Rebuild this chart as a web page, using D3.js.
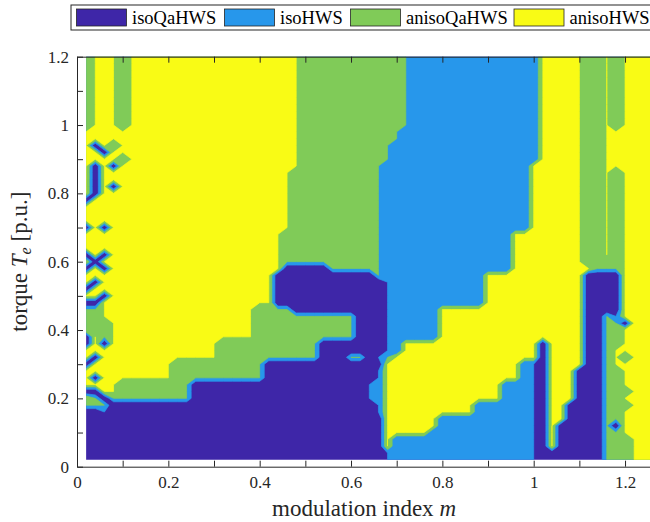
<!DOCTYPE html>
<html>
<head>
<meta charset="utf-8">
<script src="https://cdn.jsdelivr.net/npm/d3@7"></script>
<style>
  body { margin: 0; background: #fff; }
  text { font-family: "Liberation Serif", "Times New Roman", serif; }
</style>
</head>
<body>
<div id="chart"></div>
<script>
// legend classes, in colour order (value 1..4 in the grid)
const categories = ["isoQaHWS", "isoHWS", "anisoQaHWS", "anisoHWS"];
const colors = ["#3e26a8", "#2797eb", "#80cb58", "#f9fb15"];

// sample points of the map
const mValues = [0.02,0.04,0.06,0.08,0.10,0.12,0.14,0.16,0.18,0.20,0.22,0.24,0.26,0.28,0.30,0.32,0.34,0.36,0.38,0.40,
  0.42,0.44,0.46,0.48,0.50,0.52,0.54,0.56,0.58,0.60,0.62,0.64,0.66,0.68,0.70,0.72,0.74,0.76,0.78,0.80,
  0.82,0.84,0.86,0.88,0.90,0.92,0.94,0.96,0.98,1.00,1.02,1.04,1.06,1.08,1.10,1.12,1.14,1.16,1.18,1.20,
  1.22,1.24,1.26];
const tValues = [0.02,0.04,0.06,0.08,0.10,0.12,0.14,0.16,0.18,0.20,0.22,0.24,0.26,0.28,0.30,0.32,0.34,0.36,0.38,0.40,
  0.42,0.44,0.46,0.48,0.50,0.52,0.54,0.56,0.58,0.60,0.62,0.64,0.66,0.68,0.70,0.72,0.74,0.76,0.78,0.80,
  0.82,0.84,0.86,0.88,0.90,0.92,0.94,0.96,0.98,1.00,1.02,1.04,1.06,1.08,1.10,1.12,1.14,1.16,1.18,1.20];

// best class per (m, T), one row per torque value, top row = 1.20
// run-length coded: "class:count" along m
const rows = [
  "3:1 4:3 3:1 4:19 3:12 2:14 4:5 3:2 4:1 3:1 4:4", // 1.20
  "3:1 4:3 3:1 4:19 3:12 2:14 4:5 3:2 4:1 3:1 4:4",
  "3:1 4:3 3:1 4:19 3:12 2:14 4:5 3:2 4:1 3:1 4:4",
  "3:1 4:3 3:1 4:19 3:12 2:14 4:5 3:2 4:1 3:1 4:4",
  "3:1 4:3 3:1 4:19 3:12 2:14 4:5 3:2 4:1 3:1 4:4",
  "3:1 4:3 3:1 4:19 3:12 2:14 4:5 3:2 4:1 3:1 4:4", // 1.10
  "3:1 4:3 3:1 4:19 3:12 2:14 4:5 3:2 4:1 3:1 4:4",
  "3:1 4:3 3:1 4:19 3:12 2:14 4:5 3:2 4:1 3:1 4:4",
  "3:1 4:3 3:1 4:19 3:12 2:14 4:5 3:2 4:1 3:1 4:4",
  "3:1 4:3 3:1 4:19 3:12 2:14 4:5 3:2 4:1 3:1 4:4",
  "3:1 4:3 3:1 4:19 3:12 2:14 4:5 3:2 4:1 3:1 4:4", // 1.00
  "4:24 3:11 2:15 4:5 3:2 4:6",
  "4:24 3:11 2:15 4:5 3:2 4:6",
  "4:1 1:1 4:1 3:1 4:20 3:10 2:16 4:5 3:2 4:6",
  "4:2 1:1 4:21 3:10 2:16 4:5 3:2 4:6",
  "4:4 3:1 4:19 3:10 2:16 4:5 3:2 4:6",             // 0.90
  "4:1 1:1 4:1 1:1 4:20 3:9 2:16 4:6 3:2 4:6",
  "4:1 1:1 4:21 3:10 2:16 4:6 3:2 4:1 3:1 4:4",
  "4:1 1:1 4:21 3:10 2:16 4:6 3:2 4:1 3:1 4:4",
  "4:1 1:1 4:1 1:1 4:19 3:10 2:16 4:6 3:2 4:1 3:1 4:4",
  "4:1 1:1 4:21 3:10 2:16 4:6 3:2 4:1 3:1 4:4",    // 0.80
  "1:1 4:22 3:10 2:16 4:6 3:2 4:1 3:1 4:4",
  "4:23 3:10 2:16 4:6 3:2 4:1 3:1 4:4",
  "4:23 3:10 2:16 4:6 3:2 4:1 3:1 4:4",
  "4:23 3:10 2:16 4:6 3:2 4:1 3:1 4:4",
  "1:1 4:1 1:1 4:20 3:10 2:16 4:6 3:2 4:1 3:1 4:4", // 0.70
  "4:22 3:11 2:14 4:8 3:2 4:1 3:1 4:4",
  "4:22 3:11 2:14 4:8 3:2 4:1 3:1 4:4",
  "4:22 3:11 2:14 4:8 3:2 4:1 3:1 4:4",
  "1:1 4:1 1:1 4:19 3:11 2:14 4:8 3:2 4:1 3:1 4:4",
  "4:1 1:1 4:20 3:11 2:14 4:8 3:4 4:4",             // 0.60
  "1:1 4:1 1:1 4:19 1:5 3:6 2:14 4:9 3:3 4:4",
  "4:21 1:11 3:1 2:11 4:11 1:4 4:4",
  "4:1 1:1 4:19 1:12 2:11 4:11 1:4 4:4",
  "1:1 4:20 1:12 2:11 4:11 1:4 4:4",
  "4:2 1:1 4:18 1:12 2:11 4:11 1:4 4:4",            // 0.50
  "1:2 4:19 1:12 2:11 4:11 1:4 4:4",
  "3:2 4:17 3:4 1:10 2:6 4:16 1:4 4:4",
  "3:2 4:17 3:11 1:3 2:6 4:16 1:2 3:1 2:1 4:4",
  "3:3 4:16 3:11 1:3 2:6 4:16 1:2 3:2 1:1 4:3",
  "4:1 3:2 4:16 3:11 1:3 2:6 4:16 1:2 3:2 4:4",     // 0.40
  "1:1 4:1 3:1 4:16 3:11 1:3 2:6 4:16 1:2 3:2 4:4",
  "1:1 4:1 1:1 4:12 3:11 1:7 2:2 4:15 1:1 4:4 1:2 3:2 4:4",
  "4:15 3:11 1:7 2:2 4:15 1:1 4:4 1:2 3:1 4:5",
  "4:1 1:1 4:13 3:11 1:3 3:2 1:1 2:1 3:1 4:16 1:1 4:4 1:2 3:1 4:1 3:1 4:3",
  "1:1 4:9 3:10 1:13 4:15 2:2 1:1 4:4 1:2 3:1 4:5", // 0.30
  "4:10 3:10 1:12 2:1 4:15 2:2 1:1 4:3 1:3 3:2 4:4",
  "4:1 1:1 4:8 3:10 1:12 2:1 4:15 2:2 1:1 4:3 1:3 3:2 4:4",
  "4:4 3:8 1:19 2:2 4:13 2:4 1:1 4:3 1:3 3:2 4:4",
  "1:2 4:2 3:8 1:19 2:2 4:13 2:4 1:1 4:3 1:3 3:3 4:3",
  "4:1 3:1 1:1 3:9 1:19 2:2 4:13 2:4 1:1 4:3 1:3 3:2 4:4", // 0.20
  "3:3 1:29 2:1 4:10 2:7 1:1 4:2 1:4 3:3 4:3",
  "1:2 2:1 1:29 2:1 4:10 2:7 1:1 4:2 1:4 3:2 4:4",
  "1:33 4:6 2:11 1:1 4:2 1:4 3:2 4:4",
  "1:33 4:6 2:11 1:1 4:1 1:5 3:1 1:1 4:4",
  "1:33 4:5 2:12 1:1 4:1 1:5 3:2 4:4",               // 0.10
  "1:33 4:1 2:16 1:1 4:1 1:5 3:3 4:3",
  "1:33 4:1 2:16 1:1 4:1 1:5 3:3 4:3",
  "1:33 2:17 1:7 3:3 4:3",
  "1:33 2:17 1:7 3:3 4:3"                            // 0.02
];

const xTicks = [0,0.1,0.2,0.3,0.4,0.5,0.6,0.7,0.8,0.9,1,1.1,1.2,1.3];
const yTicks = [0,0.1,0.2,0.3,0.4,0.5,0.6,0.7,0.8,0.9,1,1.1,1.2];
const xTickLabels = {0: "0", 0.2: "0.2", 0.4: "0.4", 0.6: "0.6", 0.8: "0.8", 1: "1", 1.2: "1.2"};
const yTickLabels = {0: "0", 0.2: "0.2", 0.4: "0.4", 0.6: "0.6", 0.8: "0.8", 1: "1", 1.2: "1.2"};

const width = 650, height = 522;
const axisColor = "#262626";

const svg = d3.select("#chart").append("svg")
  .attr("width", width)
  .attr("height", height)
  .style("background", "#fff");

const x = d3.scaleLinear().domain([0, 1.3]).range([77, 77 + 456.7 * 1.3]);
const y = d3.scaleLinear().domain([0, 1.2]).range([466.7, 56.7]);

// decode the rows, bottom row first (d3.contours grid order)
const nx = mValues.length, ny = tValues.length;
const grid = new Array(nx * ny).fill(4);
rows.slice().reverse().forEach((row, j) => {
  let i = 0;
  row.split(" ").forEach(tok => {
    const [v, n] = tok.split(":").map(Number);
    for (let k = 0; k < n; k++) grid[j * nx + i++] = v;
  });
  if (i !== nx) console.warn("row", j, "has", i, "cells");
});

// grid coordinates -> data coordinates
const gx = d3.scaleLinear().domain([0.5, nx - 0.5]).range([mValues[0], mValues[nx - 1]]);
const gy = d3.scaleLinear().domain([0.5, ny - 0.5]).range([tValues[0], tValues[ny - 1]]);

const path = d3.geoPath(d3.geoTransform({
  point: function (px, py) { this.stream.point(x(gx(px)), y(gy(py))); }
}));

const contours = d3.contours().size([nx, ny]).thresholds([1, 2, 3, 4])(grid);

svg.append("clipPath").attr("id", "plotClip")
  .append("rect")
  .attr("x", x(mValues[0]))
  .attr("y", y(tValues[ny - 1]))
  .attr("width", x(mValues[nx - 1]) - x(mValues[0]))
  .attr("height", y(tValues[0]) - y(tValues[ny - 1]));

// filled class regions; a hairline of the same colour keeps one-sample ridges visible
svg.append("g")
  .attr("clip-path", "url(#plotClip)")
  .selectAll("path")
  .data(contours)
  .join("path")
  .attr("d", path)
  .attr("fill", d => colors[d.value - 1])
  .attr("stroke", d => colors[d.value - 1])
  .attr("stroke-width", 0.7)
  .attr("stroke-linejoin", "round");

// Axes (ticks point inward)
const xAxis = svg.append("g")
  .attr("transform", `translate(0,${y(0)})`)
  .call(d3.axisBottom(x).tickValues(xTicks).tickSizeInner(-6).tickSizeOuter(0).tickPadding(9)
    .tickFormat(d => xTickLabels[d] || ""));

const yAxis = svg.append("g")
  .attr("transform", `translate(${x(0)},0)`)
  .call(d3.axisLeft(y).tickValues(yTicks).tickSizeInner(-6).tickSizeOuter(0).tickPadding(8)
    .tickFormat(d => yTickLabels[d] || ""));

const topAxis = svg.append("g")
  .attr("transform", `translate(0,${y(1.2)})`)
  .call(d3.axisTop(x).tickValues(xTicks).tickSizeInner(-6).tickSizeOuter(0).tickFormat(""));

[xAxis, yAxis, topAxis].forEach(g => {
  g.selectAll("path, line").attr("stroke", axisColor).attr("stroke-width", 1);
  g.selectAll("text")
    .attr("fill", axisColor)
    .style("font-family", "'Liberation Serif', serif")
    .style("font-size", "17px");
});

// Axis labels
const xLabel = svg.append("text")
  .attr("x", 364)
  .attr("y", 516)
  .attr("text-anchor", "middle")
  .attr("fill", axisColor)
  .style("font-size", "23px");
xLabel.append("tspan").text("modulation index ");
xLabel.append("tspan").style("font-style", "italic").text("m");

const yLabel = svg.append("text")
  .attr("transform", `translate(27,${(y(0) + y(1.2)) / 2}) rotate(-90)`)
  .attr("text-anchor", "middle")
  .attr("fill", axisColor)
  .style("font-size", "23px");
yLabel.append("tspan").text("torque ");
yLabel.append("tspan").style("font-style", "italic").text("T");
yLabel.append("tspan").style("font-style", "italic").style("font-size", "16px").attr("dy", 4).text("e");
yLabel.append("tspan").attr("dy", -4).text("  [p.u.]");

// Legend: horizontal, centred over the axes, so it runs past the right edge
const legend = svg.append("g").attr("transform", "translate(71,5)");
legend.append("rect")
  .attr("width", 592).attr("height", 25)
  .attr("fill", "#fff").attr("stroke", axisColor).attr("stroke-width", 1);

const legendX = [5.5, 153.5, 279.5, 443];
const item = legend.selectAll("g.item")
  .data(categories)
  .join("g")
  .attr("class", "item")
  .attr("transform", (d, i) => `translate(${legendX[i]},4)`);
item.append("rect")
  .attr("width", 50).attr("height", 17)
  .attr("fill", (d, i) => colors[i])
  .attr("stroke", axisColor).attr("stroke-width", 0.8);
item.append("text")
  .attr("x", 55.5).attr("y", 15)
  .attr("fill", "#000")
  .style("font-size", "18.5px")
  .text(d => d);
</script>
</body>
</html>
